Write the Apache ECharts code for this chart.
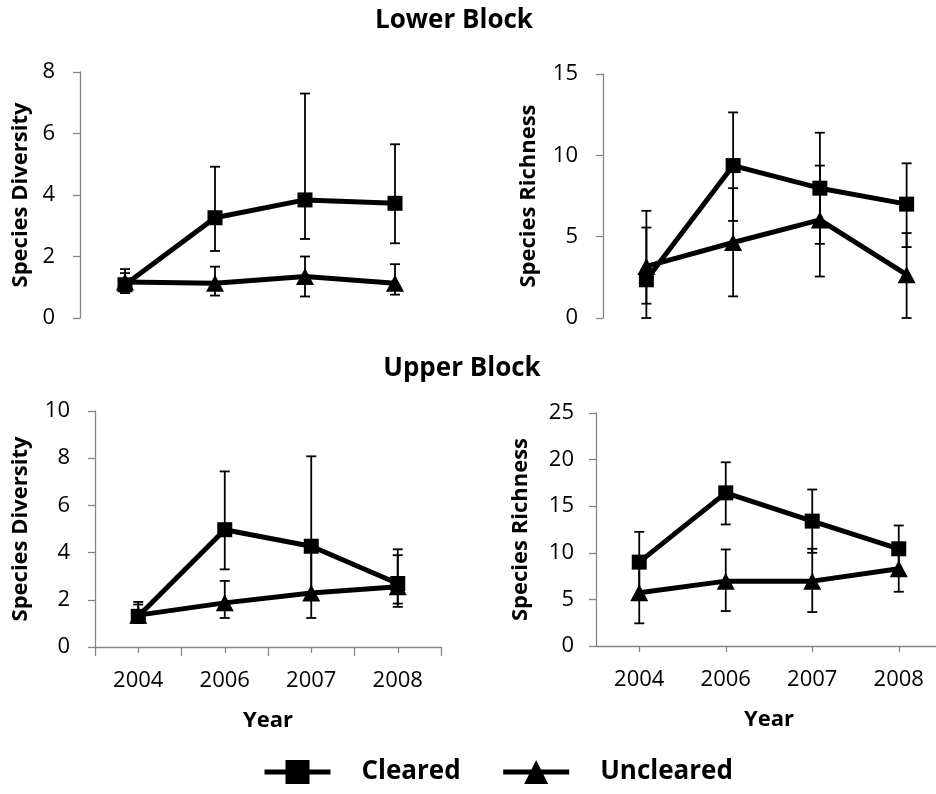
<!DOCTYPE html>
<html>
<head>
<meta charset="utf-8">
<script src="https://cdn.jsdelivr.net/npm/echarts@6/dist/echarts.min.js"></script>
<style>
  html, body { margin: 0; padding: 0; background: #fff; }
  #chart { width: 936px; height: 794px; }
</style>
</head>
<body>
<div id="chart"></div>
<script>
// Survey years shared by all four panels
const years = ['2004', '2006', '2007', '2008'];

// Lower Block – species diversity (means and error-bar ends)
const lowerDivCleared = [1.08, 3.26, 3.84, 3.73];
const lowerDivClearedLow = [0.81, 2.18, 2.57, 2.43];
const lowerDivClearedHigh = [1.59, 4.92, 7.30, 5.65];
const lowerDivUncleared = [1.17, 1.13, 1.35, 1.13];
const lowerDivUnclearedLow = [0.86, 0.73, 0.70, 0.76];
const lowerDivUnclearedHigh = [1.46, 1.67, 2.00, 1.75];

// Lower Block – species richness
const lowerRichCleared = [2.35, 9.37, 7.98, 7.00];
const lowerRichClearedLow = [0.88, 5.97, 4.56, 4.36];
const lowerRichClearedHigh = [5.56, 12.64, 11.39, 9.51];
const lowerRichUncleared = [3.17, 4.64, 6.03, 2.66];
const lowerRichUnclearedLow = [0, 1.33, 2.55, 0];
const lowerRichUnclearedHigh = [6.59, 7.98, 9.37, 5.22];

// Upper Block – species diversity
const upperDivCleared = [1.30, 4.97, 4.27, 2.69];
const upperDivClearedLow = [1.02, 3.29, 2.12, 1.70];
const upperDivClearedHigh = [1.91, 7.44, 8.08, 4.14];
const upperDivUncleared = [1.35, 1.87, 2.29, 2.55];
const upperDivUnclearedLow = [1.06, 1.23, 1.23, 1.84];
const upperDivUnclearedHigh = [1.80, 2.80, 4.27, 3.89];

// Upper Block – species richness
const upperRichCleared = [9.0, 16.43, 13.4, 10.43];
const upperRichClearedLow = [5.5, 13.04, 10.0, 7.93];
const upperRichClearedHigh = [12.25, 19.71, 16.79, 12.93];
const upperRichUncleared = [5.71, 6.96, 6.96, 8.29];
const upperRichUnclearedLow = [2.43, 3.75, 3.64, 5.82];
const upperRichUnclearedHigh = [9.0, 10.36, 10.43, 10.79];

// Y-axis ranges: [max, interval]
const yRanges = [[8, 2], [15, 5], [10, 2], [25, 5]];
const yNames = ['Species Diversity', 'Species Richness', 'Species Diversity', 'Species Richness'];

const FONT = '"Open Sans", "DejaVu Sans", sans-serif';
const AXIS_GREY = '#868686';

const grids = [
  { left: 80, top: 72, width: 360, height: 246 },
  { left: 603, top: 74, width: 347, height: 244 },
  { left: 95, top: 411, width: 346, height: 236 },
  { left: 596, top: 413, width: 346, height: 233 }
].map(g => Object.assign({ outerBoundsMode: 'none', containLabel: false }, g));

const yNameGaps = [48, 63, 63, 64];
const yLabelMargins = [25, 25, 25, 22];

const yAxes = yRanges.map((r, i) => ({
  type: 'value',
  gridIndex: i,
  min: 0,
  max: r[0],
  interval: r[1],
  name: yNames[i],
  nameLocation: 'middle',
  nameGap: yNameGaps[i],
  nameTextStyle: { fontFamily: FONT, fontWeight: 'bold', fontSize: 22, color: '#000' },
  axisLine: { show: true, lineStyle: { color: AXIS_GREY, width: 1.3 } },
  axisTick: { show: true, inside: false, length: 7, lineStyle: { color: AXIS_GREY, width: 1.3 } },
  axisLabel: { fontFamily: FONT, fontSize: 22, color: '#000', margin: yLabelMargins[i] },
  splitLine: { show: false }
}));

const hiddenX = gi => ({
  type: 'category', gridIndex: gi, data: years, boundaryGap: true, position: 'bottom',
  axisLine: { show: false }, axisTick: { show: false }, axisLabel: { show: false },
  splitLine: { show: false }
});

const yearAxis = (gi, alignWithLabel, tickLen) => ({
  type: 'category', gridIndex: gi, data: years, boundaryGap: true, position: 'bottom',
  name: 'Year', nameLocation: 'middle', nameGap: 63,
  nameTextStyle: { fontFamily: FONT, fontWeight: 'bold', fontSize: 22, color: '#000' },
  axisLine: { show: true, lineStyle: { color: AXIS_GREY, width: 1.3 } },
  axisTick: { show: true, alignWithLabel: alignWithLabel, length: tickLen, lineStyle: { color: AXIS_GREY, width: 1.3 } },
  axisLabel: { fontFamily: FONT, fontSize: 22, color: '#000', margin: 23, interval: 0 },
  splitLine: { show: false }
});

const xAxes = [
  hiddenX(0),
  hiddenX(1),
  yearAxis(2, false, 9),
  yearAxis(3, true, 6),
  // extra tick marks at category centres for the Upper Block diversity panel
  {
    type: 'category', gridIndex: 2, data: years, boundaryGap: true, position: 'bottom', offset: 0,
    axisLine: { show: false }, axisLabel: { show: false },
    axisTick: { show: true, alignWithLabel: true, length: 6, lineStyle: { color: AXIS_GREY, width: 1.3 } },
    splitLine: { show: false }
  }
];

const panels = [
  { c: lowerDivCleared, cl: lowerDivClearedLow, ch: lowerDivClearedHigh,
    u: lowerDivUncleared, ul: lowerDivUnclearedLow, uh: lowerDivUnclearedHigh },
  { c: lowerRichCleared, cl: lowerRichClearedLow, ch: lowerRichClearedHigh,
    u: lowerRichUncleared, ul: lowerRichUnclearedLow, uh: lowerRichUnclearedHigh },
  { c: upperDivCleared, cl: upperDivClearedLow, ch: upperDivClearedHigh,
    u: upperDivUncleared, ul: upperDivUnclearedLow, uh: upperDivUnclearedHigh },
  { c: upperRichCleared, cl: upperRichClearedLow, ch: upperRichClearedHigh,
    u: upperRichUncleared, ul: upperRichUnclearedLow, uh: upperRichUnclearedHigh }
];

// Vertical error bar with flat caps
function renderErrorBar(params, api) {
  const idx = api.value(0);
  const lo = api.coord([idx, api.value(1)]);
  const hi = api.coord([idx, api.value(2)]);
  const half = 5;
  const style = { stroke: '#000', lineWidth: 1.8 };
  return {
    type: 'group',
    children: [
      { type: 'line', shape: { x1: lo[0], y1: lo[1], x2: hi[0], y2: hi[1] }, style },
      { type: 'line', shape: { x1: lo[0] - half, y1: lo[1], x2: lo[0] + half, y2: lo[1] }, style },
      { type: 'line', shape: { x1: hi[0] - half, y1: hi[1], x2: hi[0] + half, y2: hi[1] }, style }
    ]
  };
}

const series = [];
panels.forEach((p, i) => {
  const bars = (lo, hi) => years.map((_, k) => [k, lo[k], hi[k]]);
  series.push({
    type: 'custom', name: 'Cleared error', xAxisIndex: i, yAxisIndex: i,
    renderItem: renderErrorBar, data: bars(p.cl, p.ch), z: 2, silent: true
  });
  series.push({
    type: 'custom', name: 'Uncleared error', xAxisIndex: i, yAxisIndex: i,
    renderItem: renderErrorBar, data: bars(p.ul, p.uh), z: 2, silent: true
  });
  series.push({
    type: 'line', name: 'Cleared', xAxisIndex: i, yAxisIndex: i, data: p.c,
    symbol: 'rect', symbolSize: 15, showSymbol: true,
    lineStyle: { color: '#000', width: 5 }, itemStyle: { color: '#000' }, z: 3
  });
  series.push({
    type: 'line', name: 'Uncleared', xAxisIndex: i, yAxisIndex: i, data: p.u,
    symbol: 'triangle', symbolSize: [18, 17], showSymbol: true,
    lineStyle: { color: '#000', width: 5 }, itemStyle: { color: '#000' }, z: 3
  });
});

const chart = echarts.init(document.getElementById('chart'), null, { renderer: 'canvas' });
chart.setOption({
  animation: false,
  backgroundColor: '#fff',
  grid: grids,
  xAxis: xAxes,
  yAxis: yAxes,
  legend: {
    data: ['Cleared', 'Uncleared'],
    left: 262,
    top: 759,
    padding: 0,
    itemWidth: 66,
    itemHeight: 30,
    itemGap: 40,
    selectedMode: false,
    lineStyle: { width: 5, color: '#000' },
    itemStyle: { color: '#000' },
    textStyle: { fontFamily: FONT, fontWeight: 'bold', fontSize: 26, color: '#000', padding: [6, 0, 0, 26] }
  },
  graphic: [
    { type: 'text', x: 454, y: 21, style: { text: 'Lower Block', font: 'bold 26px ' + FONT, fill: '#000', textAlign: 'center', textVerticalAlign: 'middle' } },
    { type: 'text', x: 462, y: 369, style: { text: 'Upper Block', font: 'bold 26px ' + FONT, fill: '#000', textAlign: 'center', textVerticalAlign: 'middle' } }
  ],
  series: series
});
</script>
</body>
</html>
